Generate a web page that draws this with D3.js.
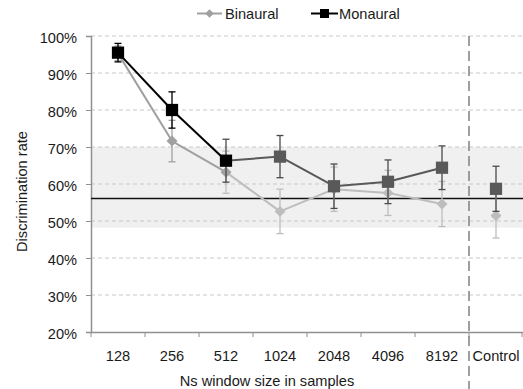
<!DOCTYPE html>
<html><head><meta charset="utf-8">
<script src="https://cdn.jsdelivr.net/npm/d3@7"></script>
<style>body{margin:0;background:#fff}svg{display:block;font-family:"Liberation Sans",Arial,sans-serif}</style>
</head><body><svg id="c" width="523" height="389"></svg>
<script>
const categories = ["128","256","512","1024","2048","4096","8192","Control"];
const binaural = [95.3, 71.6, 63.2, 52.6, 58.6, 57.6, 54.6, 51.4];
const binauralErr = [2.0, 5.6, 5.7, 6.0, 6.0, 6.1, 6.1, 6.0];
const monaural = [95.5, 80.0, 66.3, 67.4, 59.4, 60.6, 64.4, 58.7];
const monauralErr = [2.5, 4.9, 5.8, 5.7, 6.0, 5.9, 5.9, 6.1];
const yTicks = [20, 30, 40, 50, 60, 70, 80, 90, 100];
const band = [48.2, 70];
const chanceLevel = 56.1;
const seriesNames = ["Binaural", "Monaural"];

(function () {
const FS = 14.6, TXT = "#1a1a1a";
const svg = d3.select("#c");
const mL = 91, mR = 523, mT = 36, mB = 332;
const x = d3.scaleBand().domain(categories).range([mL, mR]).padding(0);
const y = d3.scaleLinear().domain([20, 100]).range([mB, mT]);
const cx = c => x(c) + x.bandwidth() / 2;

// band
svg.append("rect").attr("x", mL).attr("width", mR - mL)
  .attr("y", y(band[1])).attr("height", y(band[0]) - y(band[1])).attr("fill", "#f0f0f0");

// gridlines
svg.append("g").selectAll("line").data(yTicks.filter(d => d > 20)).join("line")
  .attr("x1", mL).attr("x2", mR).attr("y1", d => y(d)).attr("y2", d => y(d))
  .attr("stroke", "#c8c8c8").attr("stroke-dasharray", "4,3").attr("stroke-width", 1);

// y axis
const ya = svg.append("g").attr("transform", `translate(${mL},0)`)
  .call(d3.axisLeft(y).tickValues(yTicks).tickFormat(d => d + "%").tickSize(5).tickPadding(9));
ya.select(".domain").attr("stroke", "#909090").attr("stroke-width", 1.5);
ya.selectAll(".tick line").attr("stroke", "#909090");
ya.selectAll("text").attr("font-size", FS).attr("fill", TXT).attr("dy", "0.45em")
  .attr("font-family", "Liberation Sans, Arial, sans-serif");

// x axis
const xa = svg.append("g").attr("transform", `translate(0,${mB})`)
  .call(d3.axisBottom(x).tickSize(0).tickPadding(19));
xa.select(".domain").attr("stroke", "#909090").attr("stroke-width", 1.5);
xa.selectAll("text").attr("font-size", FS).attr("fill", TXT).attr("font-family", "Liberation Sans, Arial, sans-serif");
const bounds = categories.map(c => x(c)).concat([mR - 1]);
xa.selectAll(".bt").data(bounds).join("line").attr("class", "bt")
  .attr("x1", d => d).attr("x2", d => d).attr("y1", 0).attr("y2", 5)
  .attr("stroke", "#909090").attr("stroke-width", 1);

// chance line
svg.append("line").attr("x1", mL).attr("x2", mR)
  .attr("y1", y(chanceLevel)).attr("y2", y(chanceLevel))
  .attr("stroke", "#111").attr("stroke-width", 1.6);

// vertical separator
const sepX = x("Control");
svg.append("line").attr("x1", sepX).attr("x2", sepX).attr("y1", mT).attr("y2", 389)
  .attr("stroke", "#808080").attr("stroke-width", 1.5).attr("stroke-dasharray", "10,5");

const nLines = 7; // connected points
function drawSeries(vals, errs, colorFn, errColorFn, diamond, size) {
  const g = svg.append("g");
  vals.forEach((v, i) => {
    const c = cx(categories[i]);
    const col = errColorFn(i);
    g.append("line").attr("x1", c).attr("x2", c).attr("y1", y(v + errs[i])).attr("y2", y(v - errs[i]))
      .attr("stroke", col).attr("stroke-width", 1.3);
    [v + errs[i], v - errs[i]].forEach(e => g.append("line").attr("x1", c - 3.5).attr("x2", c + 3.5)
      .attr("y1", y(e)).attr("y2", y(e)).attr("stroke", col).attr("stroke-width", 1.3));
  });
  for (let i = 0; i < nLines - 1; i++) {
    g.append("line").attr("x1", cx(categories[i])).attr("y1", y(vals[i]))
      .attr("x2", cx(categories[i + 1])).attr("y2", y(vals[i + 1]))
      .attr("stroke", colorFn(i + 1)).attr("stroke-width", 2);
  }
  vals.forEach((v, i) => {
    g.append("path").attr("d", d3.symbol().type(d3.symbolSquare).size(size)())
      .attr("transform", `translate(${cx(categories[i])},${y(v)})` + (diamond ? " rotate(45)" : ""))
      .attr("fill", colorFn(i));
  });
}
drawSeries(binaural, binauralErr, i => i <= 2 ? "#a0a0a0" : "#bdbdbd", i => i <= 1 ? "#a0a0a0" : "#bdbdbd", true, 60);
drawSeries(monaural, monauralErr, i => i <= 2 ? "#000" : "#595959", i => i <= 1 ? "#000" : "#4a4a4a", false, 150);

// legend
const lg = svg.append("g");
lg.append("line").attr("x1", 197).attr("x2", 222).attr("y1", 13.5).attr("y2", 13.5).attr("stroke", "#a0a0a0").attr("stroke-width", 2);
lg.append("path").attr("d", d3.symbol().type(d3.symbolSquare).size(36)()).attr("transform", "translate(209.5,13.5) rotate(45)").attr("fill", "#a0a0a0");
lg.append("text").attr("x", 225).attr("y", 19).text(seriesNames[0]).attr("font-size", FS).attr("fill", TXT);
lg.append("line").attr("x1", 311).attr("x2", 338).attr("y1", 13.5).attr("y2", 13.5).attr("stroke", "#000").attr("stroke-width", 2);
lg.append("path").attr("d", d3.symbol().type(d3.symbolSquare).size(81)()).attr("transform", "translate(324.5,13.5)").attr("fill", "#000");
lg.append("text").attr("x", 339).attr("y", 19).text(seriesNames[1]).attr("font-size", FS).attr("fill", TXT);

// titles
svg.append("text").attr("x", 267).attr("y", 386).attr("text-anchor", "middle").attr("font-size", FS).attr("fill", TXT)
  .text("Ns window size in samples");
svg.append("text").attr("transform", "translate(26.5,191.5) rotate(-90)").attr("text-anchor", "middle").attr("font-size", FS).attr("fill", TXT)
  .text("Discrimination rate");
})();
</script></body></html>
